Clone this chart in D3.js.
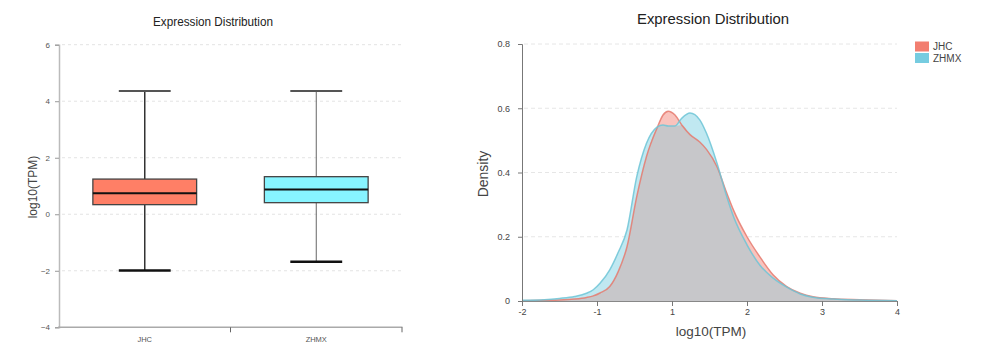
<!DOCTYPE html>
<html><head><meta charset="utf-8">
<script src="https://cdn.jsdelivr.net/npm/d3@7"></script>
<style>body{margin:0;background:#fff}svg{display:block;font-family:"Liberation Sans",Arial,sans-serif}</style>
</head><body>
<svg id="c" width="1000" height="355"></svg>
<script>
// ---- Box plot data ----
const boxCategories = ["JHC", "ZHMX"];
const boxLower  = [-1.99, -1.68];
const boxQ1     = [0.34, 0.41];
const boxMedian = [0.74, 0.88];
const boxQ3     = [1.245, 1.33];
const boxUpper  = [4.36, 4.36];
const boxColors = ["#FF7F66", "#87F4FF"];
const boxYTicks = [-4, -2, 0, 2, 4, 6];

// ---- Density data (x in axis positions) ----
const densityX = [-2.0,-1.7,-1.5,-1.3,-1.14,-1.05,-0.96,-0.83,-0.72,-0.6,-0.47,-0.34,-0.2,-0.12,-0.05,0.04,0.13,0.24,0.37,0.46,0.6,0.73,0.82,1.0,1.17,1.35,1.53,1.71,1.88,2.15,2.5,3.0];
const densityJHC  = [0.001,0.002,0.003,0.006,0.011,0.016,0.025,0.045,0.09,0.169,0.325,0.45,0.538,0.579,0.591,0.579,0.548,0.518,0.495,0.472,0.418,0.336,0.283,0.2,0.138,0.081,0.045,0.024,0.013,0.007,0.004,0.001];
const densityZHMX = [0.002,0.004,0.008,0.014,0.024,0.035,0.055,0.097,0.15,0.221,0.387,0.491,0.541,0.548,0.545,0.545,0.569,0.585,0.564,0.522,0.429,0.325,0.263,0.175,0.112,0.071,0.043,0.022,0.012,0.006,0.003,0.001];
const densityXTickPos    = [-2, -1, 0, 1, 2, 3];
const densityXTickLabels = ["-2", "-1", "1", "2", "3", "4"];
const densityYTicks = [0, 0.2, 0.4, 0.6, 0.8];
const seriesNames = ["JHC", "ZHMX"];

const svg = d3.select("#c");

// ================= LEFT: box plot =================
const y1 = d3.scaleLinear().domain([-4, 6]).range([327.3, 44.7]);
const x1 = d3.scaleBand().domain(boxCategories).range([59, 402]);
const L = svg.append("g");

L.append("text").attr("x", 213).attr("y", 25.5).attr("text-anchor", "middle")
  .attr("font-size", 13).attr("fill", "#222").attr("textLength", 120)
  .attr("lengthAdjust", "spacingAndGlyphs").text("Expression Distribution");

// grid
L.selectAll(".g1").data(boxYTicks.filter(d => d > -4)).enter().append("line")
  .attr("x1", 62).attr("x2", 402).attr("y1", d => y1(d)).attr("y2", d => y1(d))
  .attr("stroke", "#e3e3e3").attr("stroke-dasharray", "3,3");

// y axis
const ya1 = L.append("g").attr("transform", "translate(59,0)")
  .call(d3.axisLeft(y1).tickValues(boxYTicks).tickSize(4).tickPadding(5));
ya1.select(".domain").attr("stroke", "#bbb").attr("stroke-width", 1.5);
ya1.selectAll(".tick line").attr("stroke", "#999");
ya1.selectAll("text").attr("font-size", 8).attr("fill", "#555").attr("font-family", "Liberation Sans, Arial");

// x axis
const xa1 = L.append("g").attr("transform", "translate(0,327.3)");
xa1.append("line").attr("x1", 58).attr("x2", 402.5).attr("stroke", "#aaa").attr("stroke-width", 1.5);
[x1.range()[0] + x1.bandwidth(), x1.range()[1]].forEach(p => {
  xa1.append("line").attr("x1", p).attr("x2", p).attr("y1", 0).attr("y2", 5).attr("stroke", "#666");
});
xa1.selectAll(".lbl").data(boxCategories).enter().append("text")
  .attr("x", d => x1(d) + x1.bandwidth() / 2).attr("y", 15).attr("text-anchor", "middle")
  .attr("font-size", 7.5).attr("fill", "#555").attr("font-family", "Liberation Sans Narrow, Liberation Sans, Arial")
  .text(d => d);

L.append("text").attr("transform", "translate(37,187) rotate(-90)").attr("text-anchor", "middle")
  .attr("font-size", 12).attr("fill", "#444").text("log10(TPM)");

// boxes
const bw = x1.bandwidth() * 0.605;
boxCategories.forEach((c, i) => {
  const cx = x1(c) + x1.bandwidth() / 2;
  const g = L.append("g");
  g.append("line").attr("x1", cx).attr("x2", cx).attr("y1", y1(boxQ3[i])).attr("y2", y1(boxUpper[i]))
    .attr("stroke", i ? "#666" : "#333").attr("stroke-width", i ? 1 : 1.5);
  g.append("line").attr("x1", cx).attr("x2", cx).attr("y1", y1(boxQ1[i])).attr("y2", y1(boxLower[i]))
    .attr("stroke", i ? "#666" : "#333").attr("stroke-width", i ? 1 : 1.5);
  g.append("line").attr("x1", cx - bw / 4).attr("x2", cx + bw / 4).attr("y1", y1(boxUpper[i])).attr("y2", y1(boxUpper[i]))
    .attr("stroke", "#555").attr("stroke-width", 2);
  g.append("line").attr("x1", cx - bw / 4).attr("x2", cx + bw / 4).attr("y1", y1(boxLower[i])).attr("y2", y1(boxLower[i]))
    .attr("stroke", "#111").attr("stroke-width", 2.5);
  g.append("rect").attr("x", cx - bw / 2).attr("width", bw)
    .attr("y", y1(boxQ3[i])).attr("height", y1(boxQ1[i]) - y1(boxQ3[i]))
    .attr("fill", boxColors[i]).attr("stroke", "#444").attr("stroke-width", 1.3);
  g.append("line").attr("x1", cx - bw / 2).attr("x2", cx + bw / 2).attr("y1", y1(boxMedian[i])).attr("y2", y1(boxMedian[i]))
    .attr("stroke", "#111").attr("stroke-width", 2);
});

// ================= RIGHT: density =================
const x2 = d3.scaleLinear().domain([-2, 3]).range([522, 897]);
const y2 = d3.scaleLinear().domain([0, 0.8]).range([301, 44]);
const R = svg.append("g");

R.append("text").attr("x", 713).attr("y", 24).attr("text-anchor", "middle")
  .attr("font-size", 14.5).attr("fill", "#222").attr("textLength", 152)
  .attr("lengthAdjust", "spacingAndGlyphs").text("Expression Distribution");

R.selectAll(".g2").data(densityYTicks.filter(d => d > 0)).enter().append("line")
  .attr("x1", 524).attr("x2", 897).attr("y1", d => y2(d)).attr("y2", d => y2(d))
  .attr("stroke", "#e6e6e6").attr("stroke-dasharray", "4,3");

const ptsJ = densityX.map((x, i) => [x, densityJHC[i]]);
const ptsZ = densityX.map((x, i) => [x, densityZHMX[i]]);
const ptsMin = densityX.map((x, i) => [x, Math.min(densityJHC[i], densityZHMX[i])]);
const area = d3.area().x(d => x2(d[0])).y0(y2(0)).y1(d => y2(d[1])).curve(d3.curveMonotoneX);
const line = d3.line().x(d => x2(d[0])).y(d => y2(d[1])).curve(d3.curveMonotoneX);

R.append("path").attr("d", area(ptsJ)).attr("fill", "#F9C3BD");
R.append("path").attr("d", area(ptsZ)).attr("fill", "#C0E8F1");
R.append("path").attr("d", area(ptsMin)).attr("fill", "#C7C7CA");
R.append("path").attr("d", line(ptsJ)).attr("fill", "none").attr("stroke", "#E57A6E").attr("stroke-width", 1.5).attr("stroke-opacity", 0.85);
R.append("path").attr("d", line(ptsZ)).attr("fill", "none").attr("stroke", "#6DC4D6").attr("stroke-width", 1.5).attr("stroke-opacity", 0.85);

const ya2 = R.append("g").attr("transform", "translate(522,0)")
  .call(d3.axisLeft(y2).tickValues(densityYTicks).tickFormat(d => d === 0 ? "0" : d3.format(".1f")(d)).tickSize(4).tickPadding(8));
ya2.select(".domain").attr("stroke", "#777");
ya2.selectAll(".tick line").attr("stroke", "#777");
ya2.selectAll("text").attr("font-size", 9).attr("fill", "#444");

const xa2 = R.append("g").attr("transform", "translate(0,301)")
  .call(d3.axisBottom(x2).tickValues(densityXTickPos).tickFormat((d, i) => densityXTickLabels[i]).tickSize(5).tickPadding(3));
xa2.select(".domain").attr("stroke", "#888");
xa2.selectAll(".tick line").attr("stroke", "#777");
xa2.selectAll("text").attr("font-size", 9).attr("fill", "#444");

R.append("text").attr("x", 711).attr("y", 336).attr("text-anchor", "middle")
  .attr("font-size", 13.5).attr("fill", "#444").text("log10(TPM)");
R.append("text").attr("transform", "translate(488,174) rotate(-90)").attr("text-anchor", "middle")
  .attr("font-size", 14).attr("fill", "#444").text("Density");

// legend
const legColors = ["#F27E70", "#76CCE0"];
seriesNames.forEach((s, i) => {
  R.append("rect").attr("x", 915).attr("y", 41.5 + i * 11.5).attr("width", 14).attr("height", 10).attr("fill", legColors[i]);
  R.append("text").attr("x", 933).attr("y", 50 + i * 11.5).attr("font-size", 10).attr("fill", "#444").text(s);
});
</script>
</body></html>
